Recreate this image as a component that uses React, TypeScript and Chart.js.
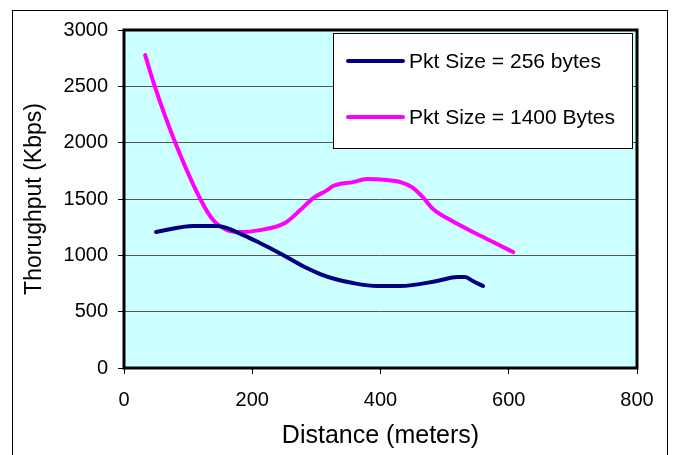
import React, { useEffect, useRef } from "react";
import { Chart, registerables } from "chart.js";

Chart.register(...registerables);

const seriesLabels = ["Pkt Size = 256 bytes", "Pkt Size = 1400 Bytes"];
const seriesColors = ["#000080", "#FF00FF"];

const dist256 = [50, 108, 145, 186, 212, 248, 285, 306, 329, 357, 395, 431, 488, 520, 532, 544, 560];
const thr256 = [1207, 1260, 1260, 1180, 1109, 1003, 887, 834, 790, 754, 728, 728, 772, 807, 807, 772, 728];

const dist1400 = [33, 48, 80, 119, 139, 161, 181, 212, 251, 275, 295, 317, 326, 357, 379, 410, 431, 449, 466, 482, 509, 560, 607];
const thr1400 = [2777, 2500, 2000, 1500, 1313, 1224, 1207, 1224, 1287, 1402, 1508, 1579, 1615, 1650, 1677, 1668, 1650, 1606, 1517, 1411, 1313, 1162, 1029];

const xTicks = [0, 200, 400, 600, 800];
const yTicks = [0, 500, 1000, 1500, 2000, 2500, 3000];

const FONT = "'Liberation Sans', Arial, sans-serif";

const framePlugin = {
  id: "frame",
  beforeDraw(chart: any) {
    const { ctx, chartArea } = chart;
    ctx.save();
    ctx.fillStyle = "#ffffff";
    ctx.fillRect(0, 0, chart.width, chart.height);
    ctx.strokeStyle = "#000000";
    ctx.lineWidth = 1;
    ctx.strokeRect(12.5, 10.5, 655, 460);
    ctx.fillStyle = "#CCFFFF";
    ctx.fillRect(chartArea.left, chartArea.top, chartArea.right - chartArea.left, chartArea.bottom - chartArea.top);
    ctx.restore();
  },
  afterDatasetsDraw(chart: any) {
    const { ctx, chartArea } = chart;
    ctx.save();
    ctx.strokeStyle = "#000000";
    ctx.lineWidth = 3;
    ctx.strokeRect(chartArea.left, chartArea.top, chartArea.right - chartArea.left, chartArea.bottom - chartArea.top);
    // legend
    const lx = 333, ly = 33, lw = 299, lh = 115;
    ctx.fillStyle = "#ffffff";
    ctx.fillRect(lx, ly, lw, lh);
    ctx.lineWidth = 1;
    ctx.strokeRect(lx + 0.5, ly + 0.5, lw, lh);
    ctx.font = `21px ${FONT}`;
    ctx.textBaseline = "middle";
    ctx.textAlign = "left";
    chart.data.datasets.forEach((ds: any, i: number) => {
      const y = 61 + i * 56;
      ctx.strokeStyle = ds.borderColor;
      ctx.lineWidth = 4;
      ctx.lineCap = "round";
      ctx.beginPath();
      ctx.moveTo(348, y);
      ctx.lineTo(403, y);
      ctx.stroke();
      ctx.fillStyle = "#000000";
      ctx.fillText(ds.label, 409, y + 1);
    });
    ctx.restore();
  },
};

export default function App() {
  const ref = useRef<HTMLCanvasElement | null>(null);
  useEffect(() => {
    if (!ref.current) return;
    const chart = new Chart(ref.current, {
      type: "line",
      data: {
        datasets: [
          {
            label: seriesLabels[0],
            data: dist256.map((x, i) => ({ x, y: thr256[i] })),
            borderColor: seriesColors[0],
            borderWidth: 4,
            borderCapStyle: "round",
            pointRadius: 0,
            cubicInterpolationMode: "monotone",
            fill: false,
          },
          {
            label: seriesLabels[1],
            data: dist1400.map((x, i) => ({ x, y: thr1400[i] })),
            borderColor: seriesColors[1],
            borderWidth: 4,
            borderCapStyle: "round",
            pointRadius: 0,
            cubicInterpolationMode: "monotone",
            fill: false,
          },
        ],
      },
      options: {
        animation: false,
        responsive: false,
        layout: { padding: { left: 10, top: 30, right: 43, bottom: 0 } },
        plugins: { legend: { display: false }, tooltip: { enabled: false } },
        scales: {
          x: {
            type: "linear",
            min: 0,
            max: 800,
            afterBuildTicks: (s: any) => { s.ticks = xTicks.map((v) => ({ value: v })); },
            afterFit: (s: any) => { s.height = 455 - 368; },
            grid: { drawOnChartArea: false, drawTicks: true, tickLength: 6, tickColor: "#000000" },
            border: { display: false },
            ticks: { color: "#000000", font: { family: FONT, size: 20 }, padding: 14, maxRotation: 0, callback: (v: any) => String(v) },
            title: { display: true, text: "Distance (meters)", color: "#000000", font: { family: FONT, size: 25 }, padding: { top: 0, bottom: 4 } },
          },
          y: {
            type: "linear",
            min: 0,
            max: 3000,
            afterBuildTicks: (s: any) => { s.ticks = yTicks.map((v) => ({ value: v })); },
            afterFit: (s: any) => { s.width = 124 - 10; },
            grid: { color: "#555555", lineWidth: 1, drawTicks: true, tickLength: 6, tickColor: "#000000" },
            border: { display: false },
            ticks: { color: "#000000", font: { family: FONT, size: 20 }, padding: 10, callback: (v: any) => String(v) },
            title: { display: true, text: "Thorughput (Kbps)", color: "#000000", font: { family: FONT, size: 23 }, padding: { top: 11, bottom: 0 } },
          },
        },
      },
      plugins: [framePlugin],
    } as any);
    return () => chart.destroy();
  }, []);
  return (
    <div style={{ position: "absolute", left: 0, top: 0, width: 680, height: 455 }}>
      <canvas ref={ref} width={680} height={455} style={{ width: 680, height: 455 }} />
    </div>
  );
}
